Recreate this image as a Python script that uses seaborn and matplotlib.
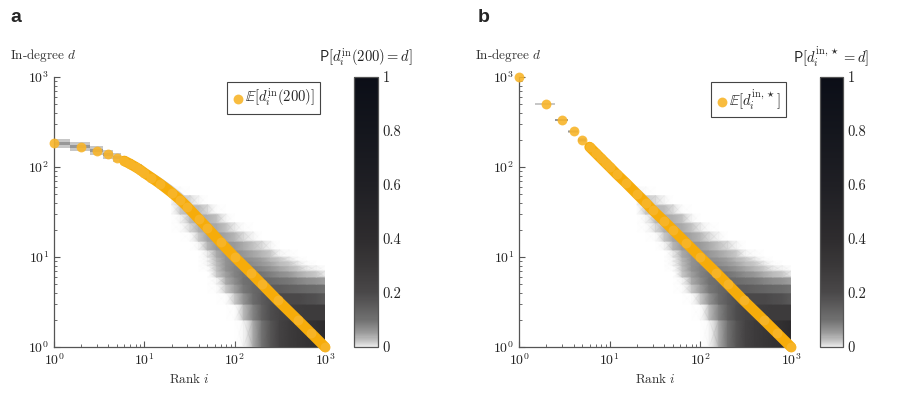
import numpy as np
import matplotlib
matplotlib.use('Agg')
import matplotlib.pyplot as plt
import seaborn as sns
from matplotlib.colors import LinearSegmentedColormap, Normalize
from matplotlib.ticker import LogLocator, NullFormatter

# ---- data ----
ranks = [1, 2, 3, 4, 5, 6, 7, 8, 9, 10, 12, 15, 20, 25, 30, 40, 50, 70, 100, 150, 200, 300, 500, 700, 1000]

# expected in-degree (orange dots)
a_mean = [183, 168, 151, 138, 127, 117, 108, 100, 93, 86, 76, 65, 52, 43, 36, 26.5, 21, 14.5, 10, 6.7, 5, 3.3, 2, 1.43, 1]
b_mean = [1000, 500, 333, 250, 200, 167, 143, 125, 111, 100, 83, 67, 50, 40, 33, 25, 20, 14.3, 10, 6.7, 5, 3.3, 2, 1.43, 1]

# grey spread around the mean at low ranks: outer / inner bounds of degree
halo_ranks = [1, 2, 3, 4, 5, 6, 7, 8, 9, 10, 12, 15, 20, 25, 30, 40]
a_hi_outer = [205, 188, 169, 155, 142, 132, 122, 114, 107, 100, 89, 77, 63, 53, 45, 31]
a_hi_inner = [190, 175, 157, 144, 133, 123, 114, 106, 99, 92, 82, 71, 58, 48, 41, 29.5]
a_lo_inner = [176, 161, 145, 132, 122, 112, 103, 96, 89, 82, 72, 62, 49, 40.5, 34, 24]
a_lo_outer = [163, 150, 135, 123, 113, 104, 97, 90, 84, 78, 68, 58, 46, 38, 32, 23]

b_hi_outer = [1000, 512, 345, 261, 211, 178, 154, 136, 122, 111, 94, 78, 60, 49, 41, 29.5]
b_hi_inner = [1000, 505, 338, 254, 204, 171, 147, 129, 115, 104, 87, 71, 54, 44, 37, 28]
b_lo_inner = [1000, 495, 328, 246, 196, 163, 139, 121, 107, 96, 79, 63, 47, 37.5, 31, 23]
b_lo_outer = [1000, 490, 323, 241, 191, 158, 135, 118, 104, 93, 77, 61, 45, 36, 29.5, 22]
halo_outer_p = 0.022
halo_inner_p = 0.055

# P[d_i = d] per degree, for degree bins (edges) sampled at these ranks
band_ranks = [20, 25, 32, 40, 50, 63, 80, 100, 125, 160, 200, 250, 315, 400, 500, 630, 800, 1000]
band_deg_edges = [1, 2, 3, 4, 5, 6, 7, 8, 9, 10, 12, 15, 19, 24, 30, 38, 48, 60]
band_prob = [
    [0, 0, 0, 0, 0, 0, 0, 0, 0.01, 0.04, 0.10, 0.17, 0.24, 0.28, 0.31, 0.34, 0.37, 0.42],
    [0, 0, 0, 0, 0, 0, 0, 0.005, 0.03, 0.08, 0.14, 0.19, 0.23, 0.25, 0.27, 0.28, 0.28, 0.28],
    [0, 0, 0, 0, 0, 0, 0.005, 0.02, 0.06, 0.11, 0.15, 0.18, 0.20, 0.20, 0.20, 0.19, 0.18, 0.16],
    [0, 0, 0, 0, 0, 0.005, 0.02, 0.05, 0.09, 0.12, 0.14, 0.15, 0.15, 0.14, 0.13, 0.12, 0.11, 0.10],
    [0, 0, 0, 0, 0, 0.01, 0.04, 0.07, 0.10, 0.11, 0.12, 0.11, 0.10, 0.09, 0.08, 0.07, 0.06, 0.05],
    [0, 0, 0, 0, 0.002, 0.02, 0.05, 0.08, 0.095, 0.10, 0.095, 0.085, 0.07, 0.055, 0.042, 0.03, 0.02, 0.012],
    [0, 0, 0, 0, 0.005, 0.025, 0.06, 0.08, 0.088, 0.085, 0.075, 0.06, 0.045, 0.032, 0.022, 0.014, 0.008, 0.004],
    [0, 0, 0, 0, 0.008, 0.03, 0.062, 0.075, 0.078, 0.07, 0.058, 0.044, 0.031, 0.02, 0.012, 0.007, 0.003, 0.001],
    [0, 0, 0, 0, 0.01, 0.035, 0.062, 0.072, 0.07, 0.06, 0.047, 0.033, 0.021, 0.012, 0.006, 0.003, 0.001, 0],
    [0, 0, 0, 0, 0.015, 0.042, 0.062, 0.065, 0.058, 0.046, 0.032, 0.02, 0.011, 0.005, 0.002, 0.001, 0, 0],
    [0, 0, 0, 0.008, 0.032, 0.052, 0.058, 0.052, 0.04, 0.027, 0.016, 0.008, 0.003, 0.001, 0, 0, 0, 0],
    [0, 0, 0.004, 0.022, 0.045, 0.052, 0.045, 0.032, 0.019, 0.009, 0.003, 0.001, 0, 0, 0, 0, 0, 0],
    [0, 0.004, 0.016, 0.036, 0.046, 0.04, 0.027, 0.014, 0.005, 0.001, 0, 0, 0, 0, 0, 0, 0, 0],
    [0, 0.008, 0.03, 0.042, 0.037, 0.024, 0.011, 0.003, 0, 0, 0, 0, 0, 0, 0, 0, 0, 0],
    [0.004, 0.02, 0.034, 0.03, 0.018, 0.007, 0.002, 0, 0, 0, 0, 0, 0, 0, 0, 0, 0, 0],
    [0.01, 0.022, 0.018, 0.008, 0.002, 0, 0, 0, 0, 0, 0, 0, 0, 0, 0, 0, 0, 0],
    [0.01, 0.007, 0.003, 0.001, 0, 0, 0, 0, 0, 0, 0, 0, 0, 0, 0, 0, 0, 0],
]

cbar_ticks = [0, 0.2, 0.4, 0.6, 0.8, 1]

# ---- style ----
sns.set_style('ticks')
plt.rcParams['font.family'] = ['cmr10', 'DejaVu Serif']
plt.rcParams['mathtext.fontset'] = 'cm'
plt.rcParams['axes.formatter.use_mathtext'] = True
plt.rcParams['axes.unicode_minus'] = False

grey_stops = [(0.02, '#c6c6c6'), (0.05, '#9b9b9b'), (0.1, '#707070'), (0.2, '#4a4849'),
              (0.3, '#3a3839'), (0.4, '#2e2c2e'), (0.6, '#1f1f24'), (0.8, '#14161d'),
              (1.0, '#0b0e17')]
grey_map = LinearSegmentedColormap.from_list('greys_dark', [(0.0, '#ebebeb')] + grey_stops)
# same ramp, but fading to transparent at zero for the heat cells
mesh_map = LinearSegmentedColormap.from_list('greys_fade', [(0.0, '#ffffff00')] + grey_stops)
norm = Normalize(0, 1)
orange_line = '#f6ac0a'
orange_dot = '#f8b52a'
spine_col = '#555555'

fig = plt.figure(figsize=(9.09, 3.96), dpi=100)
bottom, height = 1 - 347 / 396, 270 / 396
ax_a = fig.add_axes([54 / 909, bottom, 271 / 909, height])
cax_a = fig.add_axes([354 / 909, bottom, 24 / 909, height])
ax_b = fig.add_axes([519 / 909, bottom, 272 / 909, height])
cax_b = fig.add_axes([820 / 909, bottom, 23 / 909, height])


def draw_panel(ax, cax, mean, hi_o, hi_i, lo_i, lo_o, legend_label, cbar_title):
    ax.set_xscale('log')
    ax.set_yscale('log')
    hr = np.array(halo_ranks, dtype=float)
    n_step = 10  # integer ranks drawn as blocks
    for lo, hi, p, z in [(lo_o, hi_o, halo_outer_p, 1), (lo_i, hi_i, halo_inner_p, 2)]:
        col = grey_map(norm(p))
        ax.fill_between(hr[:n_step], np.array(lo[:n_step]), np.array(hi[:n_step]), step='mid',
                        color=col, linewidth=0, zorder=z)
        ax.fill_between(hr[n_step - 1:], np.array(lo[n_step - 1:]), np.array(hi[n_step - 1:]),
                        color=col, linewidth=0, zorder=z)

    # each degree bin is constant in d, shaded smoothly along rank
    yy = np.repeat(band_deg_edges, 2)[1:-1]
    xx, yy = np.meshgrid(band_ranks, yy)
    cc = np.repeat(np.array(band_prob), 2, axis=0)
    ax.pcolormesh(xx, yy, cc, cmap=mesh_map, norm=norm, shading='gouraud', zorder=3)

    r = np.array(ranks, dtype=float)
    m = np.array(mean, dtype=float)
    dense = r >= 6
    sns.lineplot(x=r[dense], y=m[dense], ax=ax, color=orange_line, linewidth=7.5,
                 estimator=None, sort=False, legend=False, zorder=4,
                 solid_capstyle='round', clip_on=False)
    sns.scatterplot(x=r, y=m, ax=ax, color=orange_dot, s=50, linewidth=0, alpha=0.9,
                    label=legend_label, zorder=5, clip_on=False)

    ax.set_xlim(1, 1000)
    ax.set_ylim(1, 1000)
    for axis in (ax.xaxis, ax.yaxis):
        axis.set_major_locator(LogLocator(base=10, numticks=10))
        axis.set_minor_locator(LogLocator(base=10, subs=np.arange(2, 10), numticks=20))
        axis.set_minor_formatter(NullFormatter())
    ax.tick_params(which='both', direction='in', colors=spine_col, labelcolor='#222222',
                   labelsize=10)
    ax.tick_params(which='major', length=4, width=0.8)
    ax.tick_params(which='minor', length=2.2, width=0.6)
    for side in ('top', 'right'):
        ax.spines[side].set_visible(False)
    for side in ('left', 'bottom'):
        ax.spines[side].set_color(spine_col)
        ax.spines[side].set_linewidth(0.9)
    ax.set_xlabel('Rank $i$', fontsize=9.5, color='#333333', labelpad=3)
    ax.set_ylabel('')

    leg = ax.legend(loc='upper right', frameon=True, fancybox=False, framealpha=1,
                    edgecolor='#444444', fontsize=10.5, handletextpad=0.05,
                    borderpad=0.35, borderaxespad=0.35, handlelength=0.8, markerscale=1.0)
    leg.get_frame().set_linewidth(0.8)

    sm = plt.cm.ScalarMappable(norm=norm, cmap=grey_map)
    cb = fig.colorbar(sm, cax=cax, ticks=cbar_ticks)
    cb.ax.set_yticklabels([f'{t:g}' for t in cbar_ticks])
    cb.outline.set_edgecolor(spine_col)
    cb.outline.set_linewidth(0.9)
    cax.tick_params(left=True, right=True, direction='in', length=4, width=0.7,
                    colors='#666666', labelcolor='#222222', labelsize=10.5,
                    labelleft=False, labelright=True)
    cax.set_title(cbar_title, fontsize=10.5, pad=10, color='#222222')


draw_panel(ax_a, cax_a, a_mean, a_hi_outer, a_hi_inner, a_lo_inner, a_lo_outer,
           r'$\mathbb{E}[d_i^{\mathrm{in}}(200)]$', r'$\mathsf{P}[d_i^{\mathrm{in}}(200) = d]$')
draw_panel(ax_b, cax_b, b_mean, b_hi_outer, b_hi_inner, b_lo_inner, b_lo_outer,
           r'$\mathbb{E}[d_i^{\mathrm{in},\star}]$', r'$\mathsf{P}[d_i^{\mathrm{in},\star} = d]$')

fig.text(10 / 909, 1 - 55 / 396, 'In-degree $d$', fontsize=9.5, color='#333333', va='center', ha='left')
fig.text(475 / 909, 1 - 55 / 396, 'In-degree $d$', fontsize=9.5, color='#333333', va='center', ha='left')
fig.text(10 / 909, 1 - 18 / 396, 'a', fontsize=14, fontweight='bold', family='Liberation Sans',
         va='center', ha='left')
fig.text(478 / 909, 1 - 18 / 396, 'b', fontsize=14, fontweight='bold', family='Liberation Sans',
         va='center', ha='left')

fig.savefig('out.png', dpi=100)
